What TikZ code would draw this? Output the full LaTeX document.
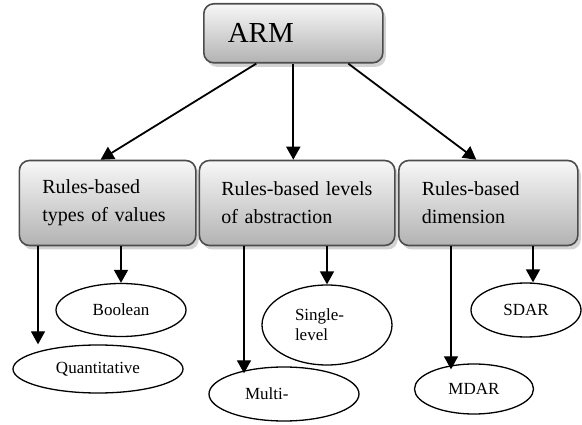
\documentclass[tikz,border=0pt]{standalone}
\usepackage{fontspec}
\setmainfont{Liberation Serif}
\usetikzlibrary{shapes.geometric,arrows.meta,shadows}

\tikzset{
  catbox/.style={draw=gray!60!black, line width=1.6pt, rounded corners=10pt,
    top color=gray!6, bottom color=gray!60, align=left, inner xsep=23pt,
    inner ysep=0pt, minimum height=85pt, anchor=north west,
    font=\fontsize{20}{28}\selectfont,
    drop shadow={shadow xshift=3pt, shadow yshift=-4pt, fill=gray!35, opacity=1}},
  leaf/.style={draw, ellipse, line width=1.3pt, inner sep=0pt, align=left,
    font=\fontsize{17}{20}\selectfont},
  toparrow/.style={line width=1.8pt, -{Triangle[length=13pt,width=14pt]}},
  leafarrow/.style={line width=1.8pt, -{Triangle[length=13pt,width=14pt]}},
  longarrow/.style={line width=1.3pt, -{Triangle[length=13pt,width=14pt]}}
}

\begin{document}
\begin{tikzpicture}[x=1pt,y=-1pt]

  \useasboundingbox (0,0) rectangle (582,425);

  \node [catbox, minimum width=179pt, minimum height=59pt, text width=131pt,
         inner xsep=24pt, font=\fontsize{29}{32}\selectfont] (arm) at (203,3) {ARM};

  \node [catbox, text width=130.4pt] (values) at (18.6,159.7)
        {Rules-based\\types of values};
  \node [catbox, text width=151.4pt, inner xsep=22pt] (levels) at (198.6,159.7)
        {Rules-based levels\\of abstraction};
  \node [catbox, text width=133pt] (dimension) at (398,159.7)
        {Rules-based\\dimension};

  \node [leaf, minimum width=170pt, minimum height=48pt] (quant) at (98,369) {Quantitative};
  \node [leaf, minimum width=130pt, minimum height=53pt] (bool) at (121,310) {Boolean};
  \node [leaf, minimum width=150pt, minimum height=54pt, text width=78pt] (multi) at (284,394) {Multi-};
  \node [leaf, minimum width=130pt, minimum height=80pt, text width=64pt] (single) at (327,325) {Single-\\level};
  \node [leaf, minimum width=119pt, minimum height=50pt] (mdar) at (474,389) {MDAR};
  \node [leaf, minimum width=110pt, minimum height=54pt] (sdar) at (526,310) {SDAR};

  % ARM to the three groups
  \draw [toparrow] ([xshift=-37pt]arm.south) -- ([xshift=-7pt]values.north);
  \draw [toparrow] (arm.south) -- (arm.south |- levels.north);
  \draw [toparrow] ([xshift=55pt]arm.south) -- ([xshift=-12pt]dimension.north);

  % groups to leaves
  \draw [longarrow] ([xshift=19.4pt]values.south west) -- ([xshift=19.4pt]values.south west |- quant.north);
  \draw [leafarrow] (values.south -| bool.north) -- (bool.north);
  \draw [longarrow] ([xshift=45.4pt]levels.south west) -- ([xshift=45.4pt,yshift=-7pt]levels.south west |- multi.north);
  \draw [leafarrow] (levels.south -| single.north) -- (single.north);
  \draw [longarrow] ([xshift=53pt]dimension.south west) -- ([xshift=53pt,yshift=-6pt]dimension.south west |- mdar.north);
  \draw [leafarrow] ([xshift=7pt]dimension.south -| sdar.north) -- ([xshift=7pt]sdar.north);

\end{tikzpicture}
\end{document}
